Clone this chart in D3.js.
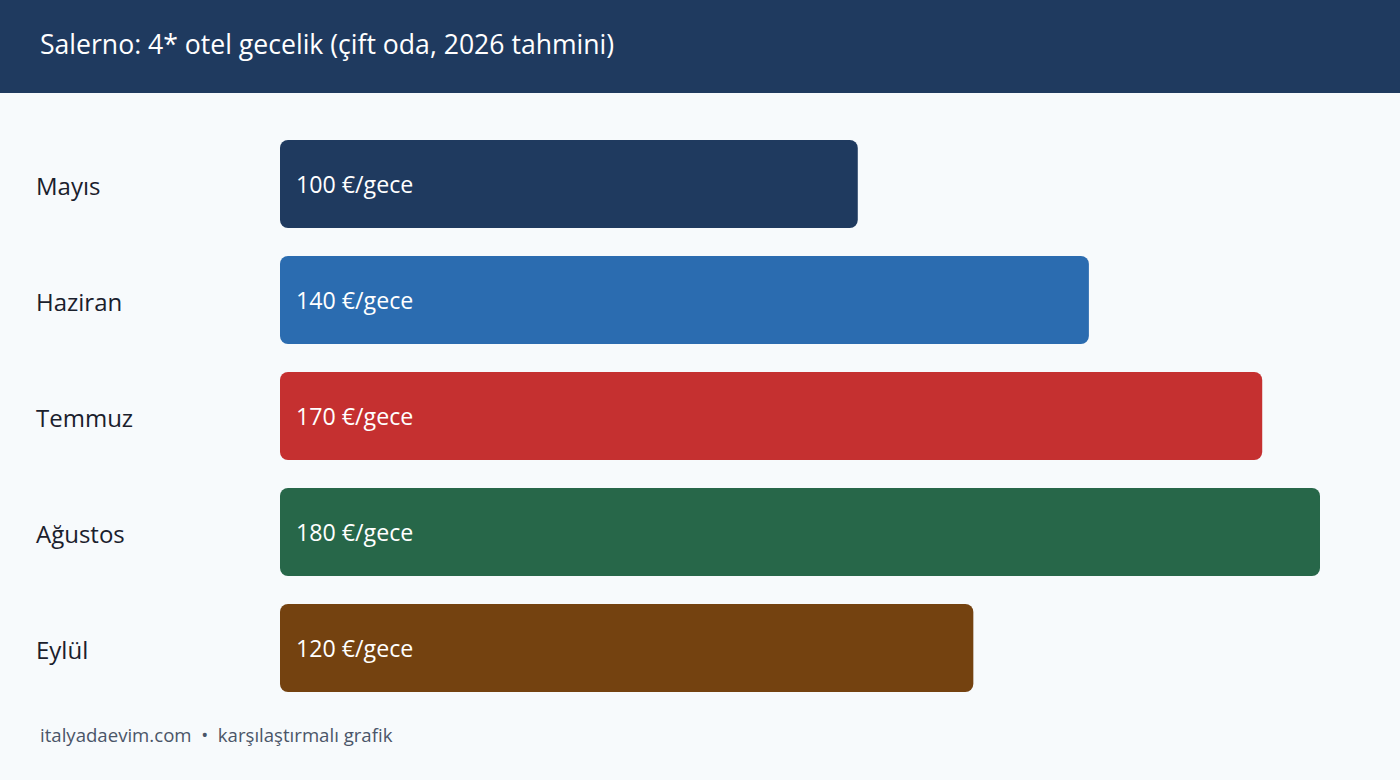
<!DOCTYPE html>
<html><head><meta charset="utf-8">
<script src="https://cdn.jsdelivr.net/npm/d3@7"></script>
<style>html,body{margin:0;padding:0;background:#f7fafc;}svg{display:block;}</style>
</head><body>
<script>
const title = "Salerno: 4* otel gecelik (çift oda, 2026 tahmini)";
const months = ["Mayıs", "Haziran", "Temmuz", "Ağustos", "Eylül"];
const prices = [100, 140, 170, 180, 120];
const colors = ["#1f3a5f", "#2b6cb0", "#c53030", "#276749", "#744210"];
const unit = "€/gece";
const footer = "italyadaevim.com  •  karşılaştırmalı grafik";

const W = 1400, H = 780;
const font = "'Open Sans', 'Noto Sans', sans-serif";
const svg = d3.select("body").append("svg").attr("width", W).attr("height", H);
svg.append("rect").attr("width", W).attr("height", H).attr("fill", "#f7fafc");
svg.append("rect").attr("width", W).attr("height", 93).attr("fill", "#1f3a5f");
svg.append("text").attr("x", 40).attr("y", 54).attr("fill", "#ffffff")
  .attr("font-family", font).attr("font-size", 26.6).text(title);

const x = d3.scaleLinear().domain([0, d3.max(prices)]).range([280, 1320]);
const y = d3.scaleBand().domain(months).range([124, 708]).paddingInner(28/116).paddingOuter(16/116);

const data = months.map((m, i) => ({m, v: prices[i], c: colors[i]}));
const g = svg.append("g");
g.selectAll("rect.bar").data(data).join("rect").attr("class", "bar")
  .attr("x", x(0)).attr("y", d => y(d.m)).attr("width", d => x(d.v) - x(0))
  .attr("height", y.bandwidth()).attr("rx", 8).attr("fill", d => d.c);
g.selectAll("text.val").data(data).join("text").attr("class", "val")
  .attr("x", x(0) + 16).attr("y", d => y(d.m) + y.bandwidth()/2 + 1).attr("dy", "0.35em")
  .attr("fill", "#ffffff").attr("font-family", font).attr("font-size", 23.2)
  .text(d => d.v + " " + unit);
g.selectAll("text.lab").data(data).join("text").attr("class", "lab")
  .attr("x", 36).attr("y", d => y(d.m) + y.bandwidth()/2 + 3).attr("dy", "0.35em")
  .attr("fill", "#1a202c").attr("font-family", font).attr("font-size", 24)
  .text(d => d.m);
svg.append("text").attr("x", 40).attr("y", 742).attr("fill", "#4a5568")
  .attr("font-family", font).attr("font-size", 18.6).attr("xml:space", "preserve")
  .style("white-space", "pre").text(footer);
</script>
</body></html>
